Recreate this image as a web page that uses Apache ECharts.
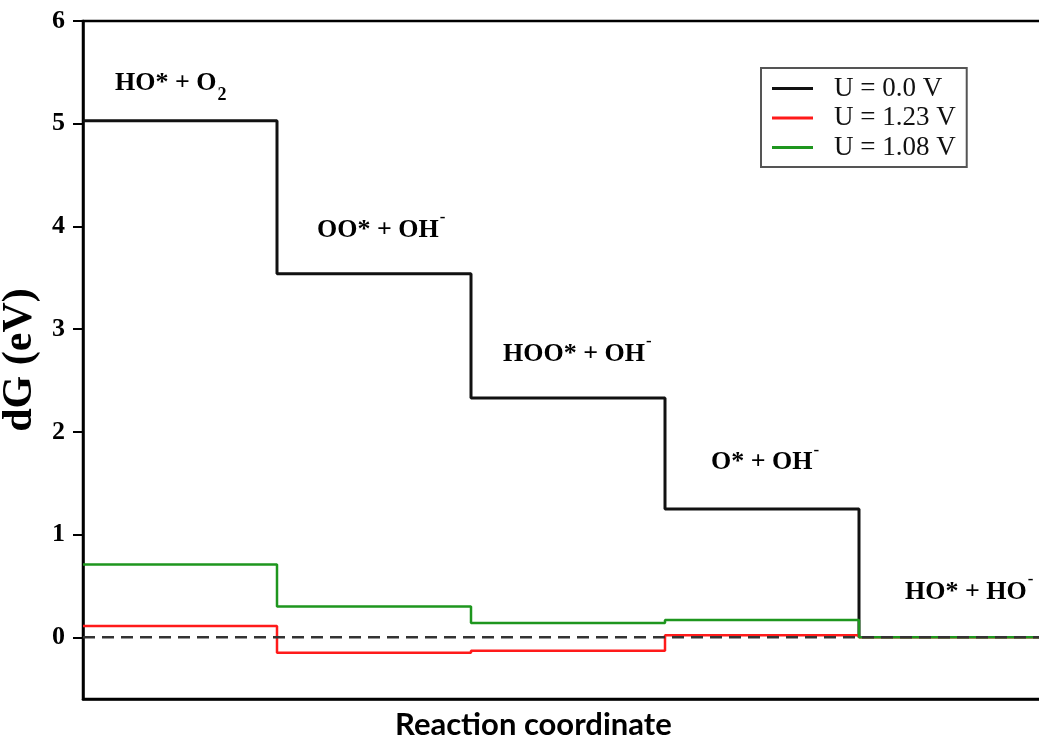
<!DOCTYPE html>
<html>
<head>
<meta charset="utf-8">
<script src="https://cdn.jsdelivr.net/npm/echarts@6/dist/echarts.min.js"></script>
<style>
  html, body { margin: 0; padding: 0; background: #fff; }
  #chart { width: 1039px; height: 739px; }
</style>
</head>
<body>
<div id="chart"></div>
<script>
// Free-energy levels (eV) for each reaction step, at three electrode potentials
const steps = [0, 1, 2, 3, 4, 5];
const seriesNames = ['U = 0.0 V', 'U = 1.23 V', 'U = 1.08 V'];
const levelsU0 = [5.03, 3.54, 2.33, 1.25, 0];
const levelsU123 = [0.11, -0.15, -0.13, 0.02, 0];
const levelsU108 = [0.71, 0.30, 0.14, 0.17, 0];
const zeroLevel = [0, 0];
const yTicks = [0, 1, 2, 3, 4, 5, 6];

// Intermediate-state labels (placed in data coordinates)
const stateText = [
  '{m|HO* + O}{sub|2}',
  '{m|OO* + OH}{sup|-}',
  '{m|HOO* + OH}{sup|-}',
  '{m|O* + OH}{sup|-}',
  '{m|HO* + HO}{sup|-}'
];
const stateX = [0.165, 1.206, 2.165, 3.237, 4.237];
const stateY = [5.39, 3.96, 2.76, 1.70, 0.44];

// Build step-line points: each level spans one unit of the reaction coordinate
function toSteps(levels, extendLast) {
  const pts = levels.map((v, i) => [steps[i], v]);
  if (extendLast) pts.push([steps[levels.length], levels[levels.length - 1]]);
  return pts;
}

const serif = 'Liberation Serif';
const colors = ['#111111', '#ff1a1a', '#1e961e'];
const chart = echarts.init(document.getElementById('chart'), null, { renderer: 'canvas' });

chart.setOption({
  animation: false,
  backgroundColor: '#fff',
  grid: {
    left: 83, top: 21, width: 970, height: 678,
    outerBoundsMode: 'none',
    containLabel: false,
    show: true, borderColor: '#000', borderWidth: 2.5, backgroundColor: 'transparent'
  },
  title: {
    text: 'Reaction coordinate',
    left: 395, top: 709,
    padding: 0,
    textStyle: { fontFamily: 'Lato', fontWeight: 'bold', fontSize: 31, color: '#000' }
  },
  legend: {
    orient: 'vertical',
    left: 761, top: 68,
    padding: [7, 11, 6, 11],
    borderColor: '#555', borderWidth: 2,
    backgroundColor: '#fff',
    itemGap: 2.5,
    itemWidth: 41, itemHeight: 3,
    icon: 'rect',
    data: seriesNames,
    textStyle: { fontFamily: serif, fontSize: 27, lineHeight: 26, color: '#111', padding: [0, 0, 0, 16] }
  },
  xAxis: {
    type: 'value', min: 0, max: 5,
    axisLine: { show: true, onZero: false, lineStyle: { color: '#000', width: 2.5 } },
    axisTick: { show: false },
    axisLabel: { show: false },
    splitLine: { show: false }
  },
  yAxis: {
    type: 'value', min: -0.6, max: 6,
    name: 'dG (eV)',
    nameLocation: 'middle',
    nameGap: 38,
    nameTextStyle: { fontFamily: serif, fontWeight: 'bold', fontSize: 42, color: '#000' },
    axisLine: { show: true, lineStyle: { color: '#000', width: 2.5 } },
    axisTick: { show: true, inside: false, length: 10, customValues: yTicks, lineStyle: { color: '#000', width: 2 } },
    axisLabel: {
      customValues: yTicks, margin: 18,
      fontFamily: serif, fontWeight: 'bold', fontSize: 26, color: '#000'
    },
    splitLine: { show: false }
  },
  series: [
    {
      name: seriesNames[0], type: 'line', step: 'end', symbol: 'none',
      data: toSteps(levelsU0, false),
      lineStyle: { color: colors[0], width: 3 }, itemStyle: { color: colors[0] }, z: 2
    },
    {
      name: seriesNames[1], type: 'line', step: 'end', symbol: 'none',
      data: toSteps(levelsU123, true),
      lineStyle: { color: colors[1], width: 2.5 }, itemStyle: { color: colors[1] }, z: 3
    },
    {
      name: seriesNames[2], type: 'line', step: 'end', symbol: 'none',
      data: toSteps(levelsU108, true),
      lineStyle: { color: colors[2], width: 2.5 }, itemStyle: { color: colors[2] }, z: 4
    },
    {
      name: 'zero', type: 'line', symbol: 'none',
      data: zeroLevel.map((v, i) => [i * 5, v]),
      lineStyle: { color: '#333', width: 2.5, type: [12, 7] }, z: 5,
      silent: true
    },
    {
      name: 'states', type: 'scatter', symbolSize: 0,
      data: stateX.map((x, i) => [x, stateY[i]]),
      silent: true, z: 6,
      itemStyle: { color: '#000', opacity: 1 },
      label: {
        show: true, position: 'right', distance: 0, color: '#000', textBorderWidth: 0,
        formatter: p => stateText[p.dataIndex],
        rich: {
          m: { fontFamily: serif, fontWeight: 'bold', fontSize: 26, color: '#000', lineHeight: 42 },
          sub: { fontFamily: serif, fontWeight: 'bold', fontSize: 18, color: '#000', lineHeight: 42, verticalAlign: 'bottom', height: 18, padding: [0, 0, 0, 1] },
          sup: { fontFamily: serif, fontWeight: 'bold', fontSize: 17, color: '#000', lineHeight: 42, verticalAlign: 'top', height: 17, padding: [0, 0, 0, 1] }
        }
      }
    }
  ]
});
</script>
</body>
</html>
